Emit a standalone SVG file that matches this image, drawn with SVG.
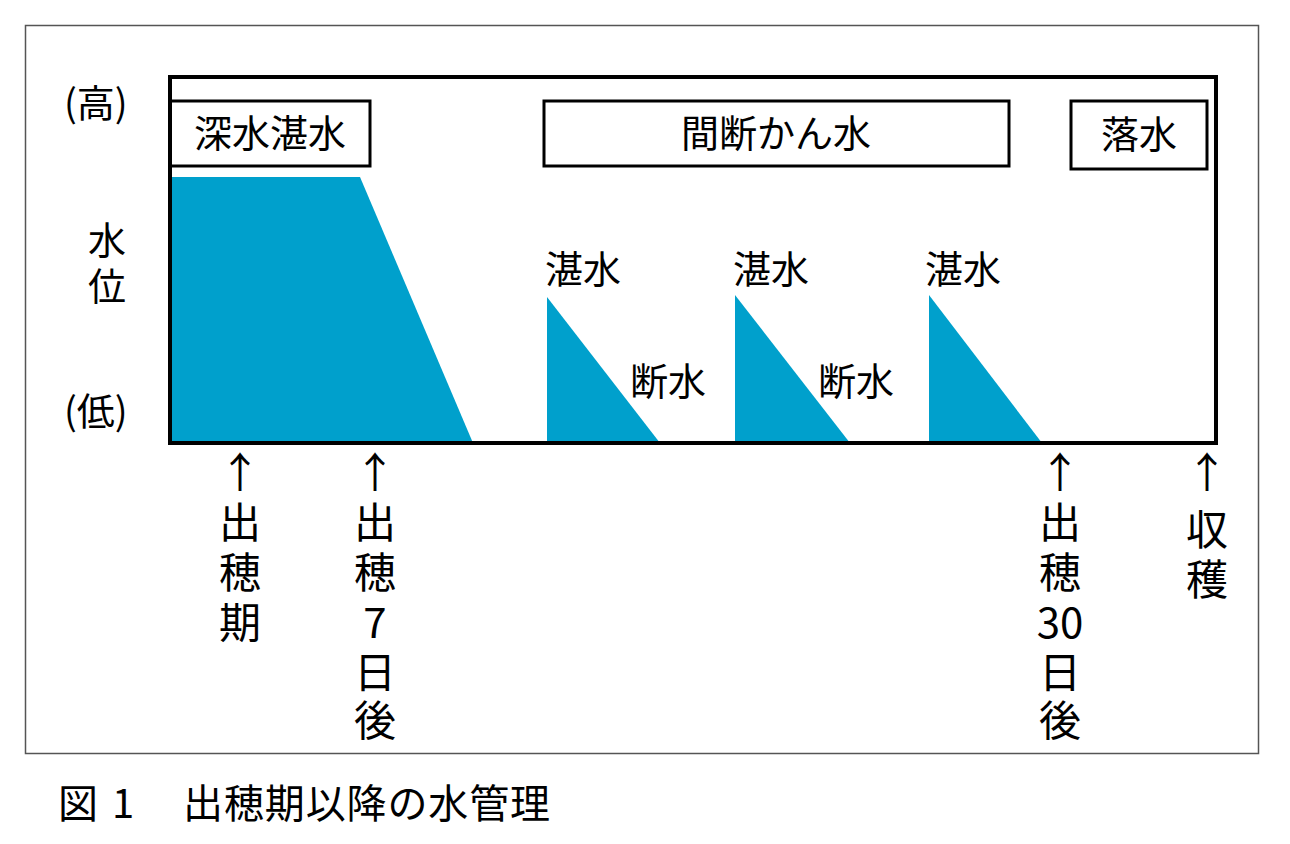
<svg xmlns="http://www.w3.org/2000/svg" width="1290" height="844" viewBox="0 0 1290 844">
<style>
text{font-family:"Noto Sans CJK JP","Liberation Sans",sans-serif;fill:#000}
.b{fill:none;stroke:#000;stroke-width:3}
.w{fill:#00a0cc}
.l{font-size:38px}
.v{font-size:42px;text-anchor:middle}
.c{font-size:40px}
</style>
<rect width="1290" height="844" fill="#fff"/>
<rect x="25.5" y="25.5" width="1233" height="728" fill="none" stroke="#555" stroke-width="1.5"/>
<g id="water">
<polygon class="w" points="170,177 360,177 473,443 170,443"/>
<polygon class="w" points="547,297 660,443 547,443"/>
<polygon class="w" points="735,295 850,443 735,443"/>
<polygon class="w" points="929,295 1042,443 929,443"/>
</g>
<rect x="170" y="77" width="1046" height="366" fill="none" stroke="#000" stroke-width="4"/>
<g id="n1"><rect class="b" x="170" y="101" width="200" height="65"/><text class="l" x="270" y="147" text-anchor="middle">深水湛水</text></g>
<g id="n2"><rect class="b" x="544" y="101" width="465" height="65"/><text class="l" x="776" y="147" text-anchor="middle">間断かん水</text></g>
<g id="n3"><rect class="b" x="1071" y="101" width="136" height="68"/><text class="l" x="1139" y="148" text-anchor="middle">落水</text></g>
<g id="labels">
<text class="l" x="64" y="117" font-size="40">(高)</text>
<text class="l" x="64" y="425" font-size="40">(低)</text>
<text class="l" x="88" y="254">水</text>
<text class="l" x="88" y="300">位</text>
<text class="l" x="545" y="283">湛水</text>
<text class="l" x="733" y="283">湛水</text>
<text class="l" x="925" y="283">湛水</text>
<text class="l" x="630" y="395">断水</text>
<text class="l" x="818" y="395">断水</text>
</g>
<g id="c1"><text class="v" x="240" y="488">↑</text><text class="v" x="240" y="538">出</text><text class="v" x="240" y="588">穂</text><text class="v" x="240" y="638">期</text></g>
<g id="c2"><text class="v" x="375" y="488">↑</text><text class="v" x="375" y="538">出</text><text class="v" x="375" y="588">穂</text><text class="v" x="375" y="638">7</text><text class="v" x="375" y="688">日</text><text class="v" x="375" y="736">後</text></g>
<g id="c3"><text class="v" x="1060" y="488">↑</text><text class="v" x="1060" y="538">出</text><text class="v" x="1060" y="588">穂</text><text class="v" x="1060" y="638">30</text><text class="v" x="1060" y="688">日</text><text class="v" x="1060" y="736">後</text></g>
<g id="c4"><text class="v" x="1207" y="488">↑</text><text class="v" x="1207" y="545">収</text><text class="v" x="1207" y="595">穫</text></g>
<text class="c" x="58" y="818">図</text>
<text class="c" x="112" y="818">1</text>
<text class="c" x="183" y="818" textLength="367">出穂期以降の水管理</text>
</svg>
